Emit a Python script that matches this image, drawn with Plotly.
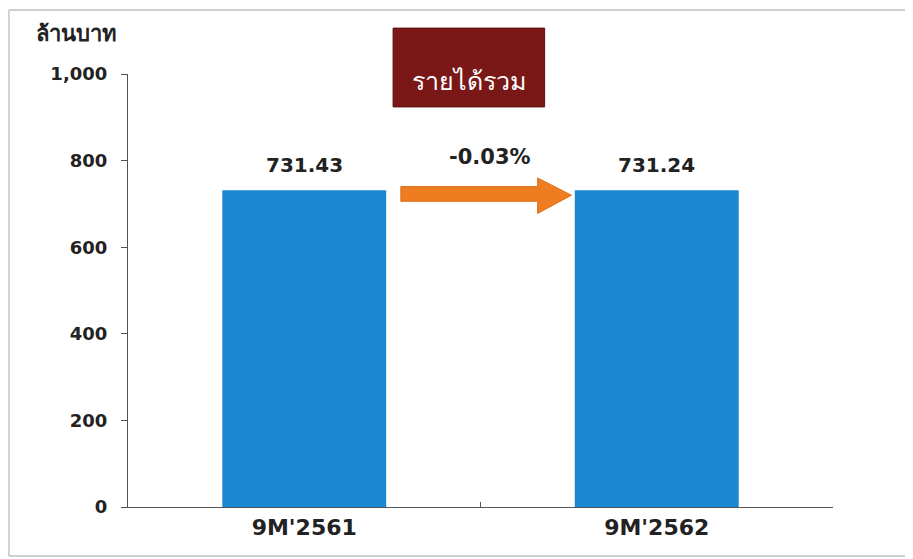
import plotly.graph_objects as go

categories = ["9M'2561", "9M'2562"]
values = [731.43, 731.24]
value_labels = ["731.43", "731.24"]
change_label = "-0.03%"
title_text = "รายได้รวม"
y_title = "ล้านบาท"
y_ticks = [0, 200, 400, 600, 800, 1000]

FONT = "DejaVu Sans"
THAI = "Noto Sans, DejaVu Sans"
BAR = "#1B87D3"

fig = go.Figure()
fig.add_trace(go.Bar(x=categories, y=values, marker=dict(color=BAR, line=dict(width=0)),
                     hoverinfo="skip"))

annotations = []
for c, v, t in zip(categories, values, value_labels):
    annotations.append(dict(x=c, y=v, xref="x", yref="y", text="<b>%s</b>" % t,
                            showarrow=False, yanchor="bottom", yshift=11,
                            font=dict(family=FONT, size=20, color="#222")))
annotations.append(dict(x=0.514, y=808, xref="paper", yref="y", text="<b>%s</b>" % change_label,
                        showarrow=False, font=dict(family=FONT, size=21, color="#222")))
annotations.append(dict(x=0.4835, y=0.981, xref="paper", yref="paper", text=title_text,
                        showarrow=False, yshift=21,
                        font=dict(family=THAI, size=25, color="white")))
annotations.append(dict(x=-0.134, y=1.097, xref="paper", yref="paper", text="<b>%s</b>" % y_title,
                        showarrow=False, xanchor="left", yshift=17,
                        font=dict(family=THAI, size=22, color="#222")))

shapes = [
    # title box
    dict(type="rect", xref="paper", yref="paper", x0=0.376, x1=0.591, y0=0.924, y1=1.106,
         fillcolor="#7A1818", line=dict(color="#5A1010", width=1), layer="above"),
    # arrow
    dict(type="path", xref="paper", yref="y",
         path="M 0.387 740 L 0.581 740 L 0.581 760 L 0.629 720 L 0.581 678 L 0.581 706 L 0.387 706 Z",
         fillcolor="#EE7D21", line=dict(color="#E07018", width=1), layer="above"),
    # outer frame (top, left, bottom)
    dict(type="line", xref="paper", yref="paper", x0=-0.169, x1=1.12, y0=1.148, y1=1.148,
         line=dict(color="#CFCFCF", width=2)),
    dict(type="line", xref="paper", yref="paper", x0=-0.169, x1=-0.169, y0=1.148, y1=-0.113,
         line=dict(color="#CFCFCF", width=2)),
    dict(type="line", xref="paper", yref="paper", x0=-0.169, x1=1.12, y0=-0.113, y1=-0.113,
         line=dict(color="#CFCFCF", width=2)),
]

fig.update_layout(
    width=913, height=559,
    margin=dict(l=120, r=88, t=66, b=60),
    paper_bgcolor="white", plot_bgcolor="white",
    bargap=0.535,
    showlegend=False,
    annotations=annotations,
    shapes=shapes,
    xaxis=dict(showline=True, linecolor="#555", linewidth=1.2, ticks="inside",
               tickson="boundaries", ticklen=5, tickcolor="#555", showgrid=False,
               tickfont=dict(family=FONT, size=22, color="#222"),
               tickvals=categories, ticktext=["<b>%s</b>" % c for c in categories]),
    yaxis=dict(range=[0, 1000], tickvals=y_ticks,
               ticktext=["<b>{:,}</b>".format(t) for t in y_ticks],
               showline=True, linecolor="#555", linewidth=1.2, ticks="outside",
               ticklen=6, tickcolor="#555", showgrid=False, zeroline=False,
               tickfont=dict(family=FONT, size=18, color="#222"), ticklabelstandoff=10),
)

fig.write_html("out.html")
